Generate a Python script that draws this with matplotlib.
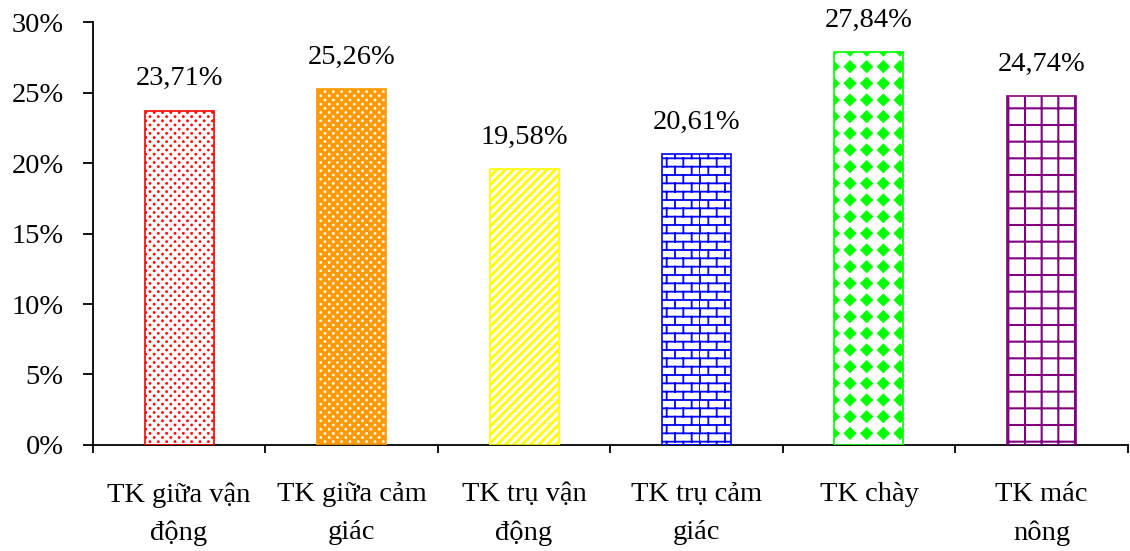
import warnings
import numpy as np
import matplotlib
matplotlib.use('Agg')
import matplotlib.pyplot as plt
import matplotlib.hatch as mhatch
from matplotlib.path import Path
from matplotlib.ticker import FuncFormatter, MultipleLocator, FixedLocator

warnings.filterwarnings('ignore')

# ---- data ----
categories = ['TK giữa vận\nđộng', 'TK giữa cảm\ngiác', 'TK trụ vận\nđộng',
              'TK trụ cảm\ngiác', 'TK chày', 'TK mác\nnông']
values = [23.71, 25.26, 19.58, 20.61, 27.84, 24.74]


# custom hatches: 'd' = grid of filled diamonds, 'b' = brick wall,
# 'e' = staggered small dots
class DiamondGrid(mhatch.HatchPatternBase):
    def __init__(self, hatch, density):
        self.n = hatch.count('d') * density
        self.num_vertices = 5 * (self.n + 1) ** 2 if self.n else 0

    def set_vertices_and_codes(self, vertices, codes):
        step = 1.0 / self.n
        r = step * 0.37
        k = 0
        for i in range(self.n + 1):
            for j in range(self.n + 1):
                cx, cy = i * step, j * step
                vertices[k:k + 5] = [(cx, cy - r), (cx + r, cy), (cx, cy + r),
                                     (cx - r, cy), (cx, cy - r)]
                codes[k] = Path.MOVETO
                codes[k + 1:k + 4] = Path.LINETO
                codes[k + 4] = Path.CLOSEPOLY
                k += 5


class Bricks(mhatch.HatchPatternBase):
    def __init__(self, hatch, density):
        c = hatch.count('b')
        self.rows = c * density * 2
        self.cols = c * density
        if c:
            self.num_vertices = 2 * (self.rows + 1) + 2 * self.rows * (self.cols + 1)
        else:
            self.num_vertices = 0

    def set_vertices_and_codes(self, vertices, codes):
        k = 0
        for i in range(self.rows + 1):
            y = i / self.rows
            vertices[k:k + 2] = [(0, y), (1, y)]
            codes[k:k + 2] = [Path.MOVETO, Path.LINETO]
            k += 2
        for i in range(self.rows):
            y0, y1 = i / self.rows, (i + 1) / self.rows
            off = 0.5 * (i % 2)
            for j in range(self.cols + 1):
                x = min((j + off) / self.cols, 1.0)
                vertices[k:k + 2] = [(x, y0), (x, y1)]
                codes[k:k + 2] = [Path.MOVETO, Path.LINETO]
                k += 2


class Dots(mhatch.HatchPatternBase):
    def __init__(self, hatch, density):
        c = hatch.count('e')
        self.cols = c * density * 2
        self.rows = self.cols * 2
        self.circle = Path.unit_circle()
        nv = len(self.circle.vertices)
        self.num_vertices = nv * (self.rows + 1) * (self.cols + 1) if c else 0

    def set_vertices_and_codes(self, vertices, codes):
        cv = self.circle.vertices * 0.011
        cc = self.circle.codes
        nv = len(cv)
        k = 0
        for i in range(self.rows + 1):
            y = i / self.rows
            off = 0.5 * (i % 2)
            for j in range(self.cols + 1):
                xx = (j + off) / self.cols
                vertices[k:k + nv] = cv + (xx, y)
                codes[k:k + nv] = cc
                k += nv


mhatch._hatch_types = list(mhatch._hatch_types) + [DiamondGrid, Bricks, Dots]

plt.rcParams['font.family'] = ['Liberation Serif', 'DejaVu Serif']
plt.rcParams['font.size'] = 20.5

fig = plt.figure(figsize=(11.3, 5.51), dpi=100)
ax = fig.add_axes([0.0821, 0.1924, 0.9159, 0.7676])

x = np.arange(len(categories))
w = 0.4

# (facecolor, hatch colour, outline colour, hatch, hatch linewidth)
styles = [
    ('white', '#FF0000', '#FF0000', 'e', 0.4),
    ('#FF9900', 'white', '#FF9900', 'e', 0.4),
    ('white', '#FFFF00', '#FFFF00', '////', 2.0),
    ('white', '#0000FF', '#0000FF', 'b', 1.3),
    ('white', '#00FF00', '#00FF00', 'd', 0.5),
    ('white', '#800080', '#800080', '+', 1.5),
]

for i, (fc, hc, ec, h, hlw) in enumerate(styles):
    plt.rcParams['hatch.linewidth'] = hlw
    b = ax.bar(x[i], values[i], width=w, color=fc, edgecolor=hc, hatch=h,
               linewidth=0, zorder=2)
    for p in b:
        if hasattr(p, 'set_hatch_linewidth'):
            p.set_hatch_linewidth(hlw)
    ax.bar(x[i], values[i], width=w, facecolor='none', edgecolor=ec,
           linewidth=1.2, zorder=3)
    ax.annotate(('%.2f%%' % values[i]).replace('.', ','), (x[i], values[i]),
                xytext=(0, 14), textcoords='offset points',
                ha='center', va='bottom')

ax.set_xlim(-0.5, len(categories) - 0.5)
ax.set_ylim(0, 30)
ax.yaxis.set_major_locator(MultipleLocator(5))
ax.yaxis.set_major_formatter(FuncFormatter(lambda v, p: '%d%%' % v))

ax.set_xticks(x)
ax.set_xticklabels(categories, linespacing=1.65)
ax.xaxis.set_minor_locator(FixedLocator(np.arange(len(categories) + 1) - 0.5))
ax.tick_params(axis='x', which='major', length=0, pad=27)
ax.tick_params(axis='x', which='minor', length=6, width=1.3, direction='out')
ax.tick_params(axis='y', length=7, width=1.3, direction='out', pad=14)

for s in ['top', 'right']:
    ax.spines[s].set_visible(False)
ax.spines['left'].set_linewidth(1.3)
ax.spines['bottom'].set_linewidth(1.3)

fig.savefig('out.png', dpi=100)
